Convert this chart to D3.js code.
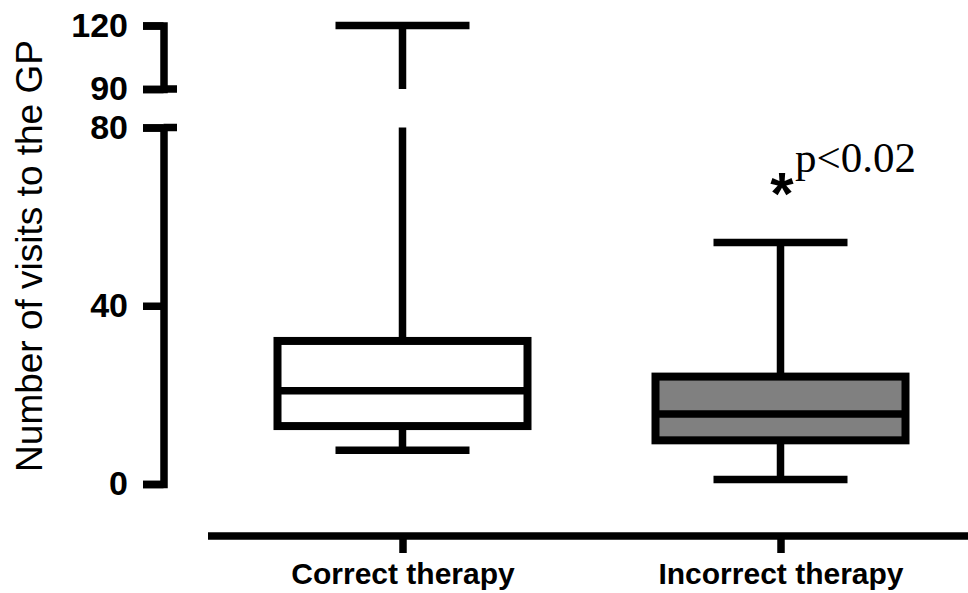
<!DOCTYPE html>
<html>
<head>
<meta charset="utf-8">
<script src="https://cdn.jsdelivr.net/npm/d3@7"></script>
<style>
  html, body { margin: 0; padding: 0; background: #ffffff; }
  svg { display: block; }
</style>
</head>
<body>
<svg id="chart" width="968" height="593"></svg>
<script>
// Box-plot summaries: number of GP visits by therapy group
const categories   = ["Correct therapy", "Incorrect therapy"];
const whiskerLow   = [7.6, 1.0];
const quartile1    = [13.0, 9.8];
const medians      = [20.9, 15.7];
const quartile3    = [32.1, 24.1];
const whiskerHigh  = [120, 54.2];

// Broken y axis: lower and upper segments
const lowTicks  = [0, 40, 80];
const highTicks = [90, 120];
const yAxisTitle = "Number of visits to the GP";
const significance = "p<0.02";

const boxFills = ["#ffffff", "#808080"];
const LW = 7.5;

const svg = d3.select("#chart");

const yLow  = d3.scaleLinear().domain([0, 80]).range([484, 127.5]);
const yHigh = d3.scaleLinear().domain([90, 120]).range([89, 25.5]);
const x = d3.scalePoint().domain(categories).range([402.5, 780.5]);
const boxW = 250, capW = 134;

const axisX = 163.5;

// ---- y axis, lower segment
const gLow = svg.append("g").attr("transform", `translate(${axisX},0)`)
  .call(d3.axisLeft(yLow).tickValues(lowTicks).tickSizeInner(20.5).tickSizeOuter(20.5).tickPadding(15));
// ---- y axis, upper segment
const gHigh = svg.append("g").attr("transform", `translate(${axisX},0)`)
  .call(d3.axisLeft(yHigh).tickValues(highTicks).tickSizeInner(20.5).tickSizeOuter(20.5).tickPadding(15));

[gLow, gHigh].forEach(g => {
  g.select(".domain").attr("stroke", "#000").attr("stroke-width", LW)
    .attr("stroke-linejoin", "miter").attr("fill", "none");
  g.selectAll(".tick line").attr("stroke", "#000").attr("stroke-width", LW);
  g.selectAll(".tick text")
    .attr("fill", "#000")
    .style("font-family", "'Liberation Sans', Arial, sans-serif")
    .style("font-weight", "bold")
    .style("font-size", "34px");
});

// right-hand stubs marking the axis break
[[yLow, 80], [yHigh, 90]].forEach(([s, v]) => {
  svg.append("line")
    .attr("x1", axisX).attr("x2", axisX + 13.5)
    .attr("y1", s(v)).attr("y2", s(v))
    .attr("stroke", "#000").attr("stroke-width", LW);
});

// y axis title
svg.append("text")
  .attr("transform", "translate(42,256) rotate(-90)")
  .attr("text-anchor", "middle")
  .style("font-family", "'Liberation Sans', Arial, sans-serif")
  .style("font-size", "37px")
  .attr("fill", "#000")
  .text(yAxisTitle);

// ---- x axis
const xAxisY = 536;
const gx = svg.append("g").attr("transform", `translate(0,${xAxisY})`)
  .call(d3.axisBottom(x).tickSizeInner(17).tickSizeOuter(0).tickPadding(10));
gx.select(".domain").remove();
gx.selectAll(".tick line").attr("stroke", "#000").attr("stroke-width", LW);
gx.selectAll(".tick text")
  .attr("fill", "#000")
  .style("font-family", "'Liberation Sans', Arial, sans-serif")
  .style("font-weight", "bold")
  .style("font-size", "30px");
svg.append("line")
  .attr("x1", 208).attr("x2", 968)
  .attr("y1", xAxisY).attr("y2", xAxisY)
  .attr("stroke", "#000").attr("stroke-width", LW);

// ---- boxes
const yOf = v => v <= 80 ? yLow(v) : yHigh(v);
const plot = svg.append("g");

categories.forEach((c, i) => {
  const cx = x(c);
  const g = plot.append("g");
  const line = (x1, y1, x2, y2) => g.append("line")
    .attr("x1", x1).attr("y1", y1).attr("x2", x2).attr("y2", y2)
    .attr("stroke", "#000").attr("stroke-width", LW);

  // lower whisker
  line(cx, yOf(quartile1[i]), cx, yOf(whiskerLow[i]));
  line(cx - capW / 2, yOf(whiskerLow[i]), cx + capW / 2, yOf(whiskerLow[i]));

  // upper whisker (split across the axis break when needed)
  const hi = whiskerHigh[i];
  line(cx, yOf(quartile3[i]), cx, yLow(Math.min(hi, 80)));
  if (hi >= 90) line(cx, yHigh(90), cx, yHigh(hi));
  line(cx - capW / 2, yOf(hi), cx + capW / 2, yOf(hi));

  // box
  g.append("rect")
    .attr("x", cx - boxW / 2)
    .attr("y", yOf(quartile3[i]))
    .attr("width", boxW)
    .attr("height", yOf(quartile1[i]) - yOf(quartile3[i]))
    .attr("fill", boxFills[i])
    .attr("stroke", "#000").attr("stroke-width", 8)
    .attr("stroke-linejoin", "miter");
  line(cx - boxW / 2, yOf(medians[i]), cx + boxW / 2, yOf(medians[i]));
});

// significance marker on the second group
const sx = x(categories[1]);
svg.append("text")
  .attr("x", sx + 1.5).attr("y", 214)
  .attr("text-anchor", "middle")
  .style("font-family", "'Liberation Sans', Arial, sans-serif")
  .style("font-weight", "bold")
  .style("font-size", "60px")
  .attr("fill", "#000")
  .text("*");
svg.append("text")
  .attr("x", 795).attr("y", 172)
  .style("font-family", "'Liberation Serif', 'Times New Roman', serif")
  .style("font-size", "43px")
  .attr("fill", "#000")
  .text(significance);
</script>
</body>
</html>
